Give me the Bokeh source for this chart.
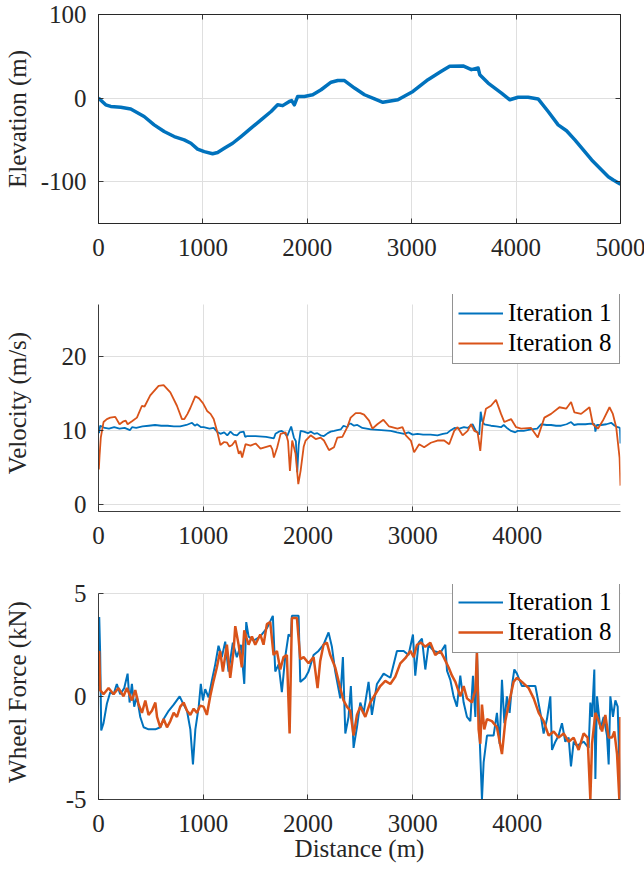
from bokeh.plotting import figure
from bokeh.models import Range1d, FixedTicker, LinearAxis, Legend, LegendItem, Grid
from bokeh.layouts import column
from bokeh.embed import file_html
from bokeh.resources import INLINE

FONT = "Liberation Serif"
BLUE = "#0072BD"
ORANGE = "#D95319"
AXC = "#262626"
GRIDC = "#dfdfdf"

# ---------------- data ----------------
elev_x = [0, 69, 117, 213, 309, 437, 533, 629, 725, 821, 885, 949, 1013, 1093, 1141, 1205, 1285,
          1365, 1461, 1557, 1653, 1716, 1764, 1828, 1850, 1876, 1908, 1972, 2052, 2132, 2228, 2292,
          2356, 2452, 2548, 2644, 2724, 2868, 3012, 3156, 3284, 3364, 3492, 3572, 3636, 3652, 3732,
          3860, 3940, 4019, 4115, 4211, 4307, 4403, 4483, 4563, 4724, 4883, 4931, 5000]
elev_y = [0, -8, -10, -11, -13, -22, -32, -40, -46, -50, -54, -61, -64, -66.5, -65, -60, -54,
          -46, -36, -26, -16, -8, -9, -4, -3, -8, 2, 2, 4, 10, 19, 21,
          21, 12, 4, -1, -5, -2, 8, 22, 32, 38, 38.5, 34, 36, 28, 18,
          6, -2, 1, 1, -1, -16, -32, -39, -50, -74, -94, -98, -103]

vel1_x = [5, 16, 60, 100, 150, 200, 250, 300, 320, 360, 420, 480, 540, 600, 660, 720, 780, 840, 893,
          920, 941, 980, 1005, 1060, 1100, 1132, 1164, 1200, 1230, 1260, 1290, 1323, 1350, 1387, 1400,
          1419, 1500, 1600, 1675, 1690, 1722, 1750, 1770, 1802, 1840, 1866, 1885, 1898, 1912, 1930,
          1962, 2000, 2030, 2060, 2089, 2120, 2153, 2190, 2217, 2250, 2280, 2313, 2340, 2376, 2390,
          2408, 2440, 2472, 2520, 2560, 2600, 2700, 2791, 2850, 2919, 2960, 3000, 3046, 3100, 3170,
          3237, 3290, 3330, 3365, 3400, 3445, 3490, 3525, 3572, 3604, 3636, 3650, 3665, 3684, 3748,
          3800, 3844, 3870, 3900, 3940, 3980, 4000, 4060, 4131, 4190, 4226, 4280, 4322, 4370, 4418,
          4470, 4513, 4540, 4577, 4650, 4700, 4737, 4745, 4760, 4800, 4850, 4896, 4930, 4960, 4980, 4985]
vel1_y = [9.6, 10.6, 10.3, 10.2, 10.4, 10.2, 10.3, 10.0, 10.4, 10.3, 10.5, 10.6, 10.7, 10.6, 10.6, 10.5, 10.5, 10.7, 11.0,
          10.6, 10.8, 10.4, 10.4, 10.2, 10.3, 9.8, 9.5, 9.7, 9.3, 9.8, 9.4, 9.3, 9.7, 9.8, 9.1,
          9.2, 9.2, 9.1, 8.9, 9.5, 9.8, 9.9, 9.7, 9.2, 10.5, 9.0, 8.5, 4.3, 8.0, 9.9,
          9.8, 9.6, 9.8, 9.5, 9.6, 9.3, 9.2, 9.6, 9.8, 9.9, 10.0, 10.1, 10.6, 10.4, 10.8,
          10.9, 10.6, 10.7, 10.3, 10.2, 10.1, 10.0, 9.9, 9.7, 9.5, 9.7, 9.4, 9.5, 9.4, 9.4,
          9.3, 9.5, 9.6, 10.0, 10.3, 10.2, 10.4, 10.3, 10.8, 9.9, 9.4, 12.5, 11.2, 10.8, 10.6,
          10.5, 10.4, 10.7, 10.3, 9.9, 9.7, 9.9, 9.9, 10.1, 10.2, 10.8, 10.7, 10.7, 10.6, 10.6,
          10.8, 11.1, 10.7, 10.8, 10.8, 10.9, 10.8, 9.8, 10.7, 10.7, 10.8, 11.0, 10.6, 10.4, 10.3, 8.2]

vel8_x = [3, 10, 22, 48, 80, 112, 160, 201, 239, 260, 278, 320, 367, 415, 440, 494, 574, 622, 686, 749,
          797, 820, 850, 877, 925, 960, 1000, 1037, 1070, 1100, 1132, 1164, 1200, 1228, 1250, 1276, 1308,
          1340, 1356, 1372, 1404, 1452, 1500, 1547, 1595, 1643, 1660, 1675, 1707, 1739, 1787, 1810, 1828,
          1850, 1882, 1908, 1930, 1960, 1978, 2026, 2074, 2121, 2153, 2201, 2249, 2281, 2329, 2376, 2408,
          2456, 2500, 2536, 2584, 2616, 2663, 2721, 2775, 2855, 2903, 2935, 2983, 3014, 3062, 3110, 3174,
          3237, 3301, 3349, 3397, 3429, 3477, 3525, 3557, 3589, 3620, 3646, 3668, 3700, 3748, 3796, 3844,
          3876, 3940, 3988, 4036, 4131, 4195, 4258, 4322, 4402, 4466, 4513, 4545, 4609, 4689, 4721, 4769,
          4817, 4880, 4912, 4944, 4976, 4985]
vel8_y = [4.7, 6.5, 9.0, 11.1, 11.5, 11.7, 11.8, 10.8, 11.2, 11.3, 10.8, 11.2, 11.7, 13.3, 13.2, 14.7, 16.0, 16.1, 15.1, 13.3,
          11.5, 11.5, 12.2, 13.0, 14.6, 14.3, 13.6, 12.6, 12.2, 11.5, 9.9, 8.0, 8.4, 8.3, 7.8, 8.0, 8.6,
          6.8, 7.2, 6.3, 8.1, 7.9, 8.2, 7.5, 7.7, 7.9, 7.4, 6.3, 7.7, 9.5, 9.7, 8.5, 4.5,
          8.6, 6.8, 2.7, 4.5, 7.8, 8.6, 9.3, 8.8, 9.0, 8.6, 7.3, 7.7, 9.0, 9.1, 10.4, 11.7,
          12.3, 12.3, 12.1, 11.3, 10.2, 10.8, 11.4, 10.5, 10.2, 10.4, 9.3, 8.6, 7.0, 8.1, 7.7, 8.3,
          8.6, 8.6, 8.1, 9.9, 10.4, 9.3, 9.9, 10.8, 9.9, 9.7, 7.2, 10.8, 12.9, 13.3, 14.1, 12.2,
          11.1, 11.5, 10.4, 10.2, 10.3, 9.0, 11.7, 12.2, 13.1, 12.9, 13.8, 12.4, 12.2, 13.1, 10.8, 10.2,
          11.3, 13.1, 12.2, 10.4, 6.3, 2.5]

force1_x = [3, 7, 16, 26, 48, 80, 112, 144, 175, 207, 246, 278, 297, 319, 341, 367, 399, 431, 478, 543,
            590, 622, 670, 718, 775, 813, 845, 877, 902, 925, 957, 977, 997, 1019, 1051, 1082, 1115, 1146,
            1178, 1210, 1242, 1283, 1321, 1360, 1392, 1411, 1433, 1481, 1545, 1608, 1665, 1688, 1720, 1751,
            1783, 1815, 1837, 1847, 1911, 1927, 1974, 2006, 2054, 2101, 2149, 2197, 2229, 2261, 2309, 2334,
            2357, 2388, 2410, 2436, 2468, 2500, 2532, 2579, 2611, 2659, 2723, 2787, 2850, 2914, 2961, 3003,
            3025, 3057, 3089, 3121, 3152, 3200, 3264, 3312, 3328, 3360, 3391, 3423, 3455, 3487, 3519, 3551,
            3576, 3599, 3614, 3640, 3662, 3678, 3710, 3773, 3805, 3831, 3853, 3876, 3900, 3926, 3948, 3971,
            3996, 4044, 4108, 4172, 4220, 4251, 4283, 4315, 4331, 4363, 4394, 4426, 4458, 4490, 4512, 4538,
            4569, 4633, 4681, 4697, 4713, 4735, 4745, 4761, 4793, 4824, 4856, 4872, 4888, 4913, 4936, 4958, 4984]
force1_y = [1.0, 3.84, 2.07, -1.65, -1.3, -0.36, 0.2, 0.1, 0.6, 0.1, 0.4, 1.1, -0.3, 0.6, -0.5, 0.0, -1.0, -1.5, -1.6, -1.6,
            -1.5, -1.1, -0.7, -0.4, 0.0, -0.4, -0.7, -1.6, -3.3, -1.6, -0.5, 0.6, -0.2, 0.35, -0.05, 0.75, 1.55, 2.45,
            1.9, 2.65, 1.2, 2.6, 1.9, 2.5, 0.6, 3.6, 2.9, 2.7, 2.9, 3.3, 3.9, 1.2, 1.55, 0.2,
            1.9, 3.0, 2.9, 3.9, 3.9, 0.7, 0.9, 1.2, 2.0, 2.2, 2.5, 3.1, 2.4, 1.2, -0.1, 1.9,
            -1.8, -1.0, 0.5, -2.5, -1.5, -0.3, -0.8, 0.7, -0.9, 0.6, 1.1, 0.9, 2.2, 2.2, 2.0, 3.0,
            1.0, 2.6, 2.8, 1.3, 2.5, 2.2, 2.1, 2.5, 1.25, 0.8, 0.0, -0.5, 1.0, -0.3, -1.0, -1.2,
            1.0, -1.0, 2.2, -2.0, -5.0, -3.2, -1.9, -1.9, -0.8, -2.3, 0.8, -1.3, 0.0, -0.8, 0.5, 1.3,
            1.1, 0.5, 0.5, 0.5, -0.8, -1.8, -1.1, 0.0, -2.6, -2.2, -1.9, -1.3, -2.2, -2.0, -3.4, -2.2,
            -2.4, -2.2, -2.5, -0.3, -1.0, 1.3, -4.0, 0.0, -1.6, -1.0, -1.9, -3.3, 0.0, -1.0, -0.2, -0.5, -5.0]

force8_x = [3, 7, 16, 48, 96, 144, 191, 239, 271, 319, 351, 383, 415, 447, 478, 510, 543, 559, 590, 622,
            654, 686, 718, 749, 781, 813, 845, 877, 909, 941, 970, 1003, 1035, 1067, 1099, 1130, 1162, 1188,
            1226, 1258, 1290, 1306, 1338, 1369, 1392, 1433, 1465, 1497, 1545, 1576, 1608, 1640, 1672, 1704,
            1736, 1767, 1799, 1825, 1847, 1895, 1927, 1959, 2006, 2054, 2092, 2117, 2149, 2181, 2213, 2261,
            2309, 2340, 2372, 2404, 2436, 2468, 2500, 2548, 2595, 2643, 2691, 2739, 2787, 2834, 2882, 2930,
            2978, 3010, 3041, 3080, 3121, 3169, 3216, 3264, 3296, 3344, 3376, 3408, 3455, 3487, 3519, 3567,
            3599, 3614, 3630, 3646, 3662, 3684, 3710, 3757, 3805, 3853, 3885, 3917, 3964, 3996, 4044, 4108,
            4156, 4204, 4251, 4299, 4347, 4394, 4442, 4490, 4538, 4585, 4633, 4671, 4697, 4713, 4745, 4777,
            4809, 4840, 4872, 4904, 4926, 4952, 4974, 4984]
force8_y = [0.5, 2.2, 0.3, 0.1, 0.4, 0.1, 0.4, 0.0, 0.4, -0.2, 0.3, -0.4, -0.8, -0.2, -0.9, -0.7, -0.3, -1.0, -1.5, -1.1,
            -1.5, -1.2, -0.8, -1.0, -0.5, -0.3, -0.7, -0.9, -0.6, -0.8, -0.45, -0.5, -0.9, 0.0, 0.75, 1.4, 2.2, 1.2,
            2.5, 0.9, 2.2, 3.4, 2.5, 1.4, 3.2, 2.5, 2.9, 2.5, 3.0, 2.5, 3.5, 3.6, 2.0, 2.2,
            1.3, 1.9, 2.0, -1.8, 3.8, 3.8, 1.8, 1.9, 1.6, 1.9, 0.4, 1.7, 2.5, 2.6, 2.0, 1.4,
            0.4, -0.2, -0.5, -0.7, -1.9, -0.9, -0.5, -1.0, -0.3, 0.1, 0.5, 0.75, 0.6, 0.95, 1.6, 1.85,
            2.2, 1.9, 2.5, 2.6, 2.4, 2.6, 2.0, 2.2, 1.9, 1.4, 1.0, 0.7, 0.0, 0.5, -0.1, -0.3,
            0.3, 2.1, -1.6, -2.3, -0.4, -1.6, -1.1, -1.2, -1.5, -2.8, -1.2, -0.4, 0.7, 0.9, 0.7, 0.4,
            -0.1, -0.8, -1.2, -1.9, -1.7, -2.0, -1.8, -2.2, -2.0, -2.6, -1.8, -2.0, -5.0, -2.3, -0.8, -1.2,
            -1.7, -0.9, -2.0, -2.0, -1.7, -2.8, -5.0, -1.0]

x_ticks_top = [0, 1000, 2000, 3000, 4000, 5000]
x_ticks = [0, 1000, 2000, 3000, 4000]
elev_ticks = [-100, 0, 100]
vel_ticks = [0, 10, 20]
force_ticks = [-5, 0, 5]
series_labels = ["Iteration 1", "Iteration 8"]

HAS_CROSS = "cross_bounds" in Grid.properties()


def base_fig(xr, yr, frame_h, top, bottom):
    return figure(output_backend="svg", toolbar_location=None,
                  frame_width=522, frame_height=frame_h,
                  min_border_left=95, min_border_right=27,
                  min_border_top=top, min_border_bottom=bottom,
                  x_range=Range1d(*xr), y_range=Range1d(*yr),
                  background_fill_color="white", border_fill_color="white")


def style_axis(ax, ticks, overrides=None, standoff=12):
    ax.ticker = FixedTicker(ticks=ticks)
    ax.major_label_text_font = FONT
    ax.major_label_text_font_size = "25px"
    ax.major_label_text_color = AXC
    ax.axis_line_color = AXC
    ax.axis_line_width = 0.9
    ax.major_tick_line_color = AXC
    ax.major_tick_line_width = 0.9
    ax.major_tick_in = 5
    ax.major_tick_out = 0
    ax.minor_tick_line_color = None
    ax.major_label_standoff = standoff
    if overrides:
        ax.major_label_overrides = overrides


def axis_title(ax, text, standoff):
    ax.axis_label = text
    ax.axis_label_text_font = FONT
    ax.axis_label_text_font_size = "25px"
    ax.axis_label_text_font_style = "normal"
    ax.axis_label_text_color = AXC
    ax.axis_label_standoff = standoff


def style_grid(p, ybounds=None):
    for g in (p.xgrid[0], p.ygrid[0]):
        g.grid_line_color = GRIDC
        g.grid_line_width = 1
    if ybounds is not None and HAS_CROSS:
        p.xgrid[0].cross_bounds = ybounds


def add_legend(p, renderers, loc):
    leg = Legend(items=[LegendItem(label=series_labels[i], renderers=[renderers[i]]) for i in range(2)],
                 location=loc, orientation="vertical",
                 label_text_font=FONT, label_text_font_size="25px", label_text_color="black",
                 glyph_width=45, glyph_height=30, label_height=30, label_width=106,
                 label_standoff=5, padding=5, spacing=0, margin=0,
                 border_line_color=AXC, border_line_width=0.8,
                 background_fill_color="white", background_fill_alpha=1.0)
    p.add_layout(leg)


# ---------------- panel 1: elevation ----------------
p1 = base_fig((0, 5000), (-150, 100), 209, 14, 60)
style_axis(p1.xaxis[0], x_ticks_top, standoff=15)
style_axis(p1.yaxis[0], elev_ticks, {-100: "-100"})
axis_title(p1.yaxis[0], "Elevation (m)", 7)
style_grid(p1)
p1.outline_line_color = AXC
p1.outline_line_width = 0.9
for place, ticks in (("above", x_ticks_top), ("right", elev_ticks)):
    ax = LinearAxis()
    style_axis(ax, ticks, standoff=0)
    ax.major_label_text_font_size = "1px"
    ax.major_label_text_color = None
    p1.add_layout(ax, place)
p1.line(elev_x, elev_y, line_color=BLUE, line_width=3.5, line_join="round")

# ---------------- panel 2: velocity ----------------
p2 = base_fig((0, 4985), (-1, 28.35), 217, 11, 52)
style_axis(p2.xaxis[0], x_ticks, standoff=15)
style_axis(p2.yaxis[0], vel_ticks)
p2.yaxis[0].bounds = (-1, 27)
axis_title(p2.yaxis[0], "Velocity (m/s)", 28)
style_grid(p2, (-1, 27))
p2.outline_line_color = None
r21 = p2.line(vel1_x, vel1_y, line_color=BLUE, line_width=1.8)
r28 = p2.line(vel8_x, vel8_y, line_color=ORANGE, line_width=1.8)
add_legend(p2, [r21, r28], (354, 147))

# ---------------- panel 3: wheel force ----------------
p3 = base_fig((0, 4985), (-5, 5.42), 215, 21, 71)
style_axis(p3.xaxis[0], x_ticks, standoff=15)
style_axis(p3.yaxis[0], force_ticks, {-5: "-5"})
p3.yaxis[0].bounds = (-5, 5)
axis_title(p3.yaxis[0], "Wheel Force (kN)", 32)
axis_title(p3.xaxis[0], "Distance (m)", 0)
style_grid(p3, (-5, 5))
p3.outline_line_color = None
r31 = p3.line(force1_x, force1_y, line_color=BLUE, line_width=2.0)
r38 = p3.line(force8_x, force8_y, line_color=ORANGE, line_width=2.5)
add_legend(p3, [r31, r38], (354, 146))

layout = column(p1, p2, p3, spacing=0)
open("out.html", "w").write(file_html(layout, INLINE))
